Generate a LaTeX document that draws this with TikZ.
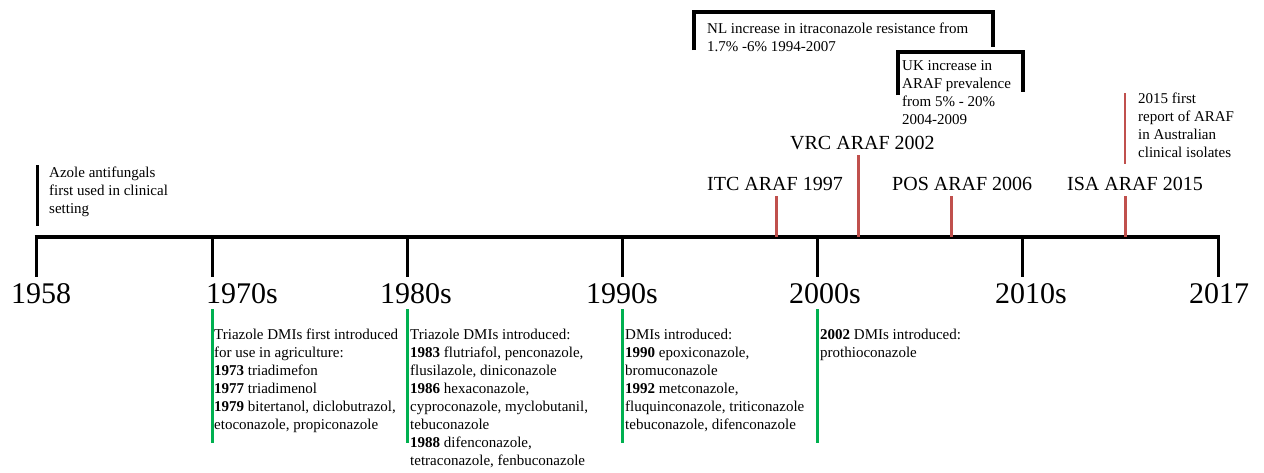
\documentclass[tikz,border=0pt]{standalone}
\usepackage{fontspec}
\setmainfont{Liberation Serif}
\definecolor{arafred}{HTML}{C0504D}
\definecolor{dmigreen}{HTML}{00B050}
\begin{document}
\begin{tikzpicture}[x=1pt,y=-1pt,
  axisline/.style={line width=4pt,black},
  tickline/.style={line width=3pt,black},
  redmark/.style={line width=3pt,arafred},
  thinred/.style={line width=1.3pt,arafred},
  greenmark/.style={line width=3pt,dmigreen},
  bracketline/.style={line width=4pt,black},
  yearlabel/.style={anchor=base west,inner sep=0pt,font=\fontsize{30}{36}\selectfont},
  araflabel/.style={anchor=base west,inner sep=0pt,font=\fontsize{20}{24}\selectfont},
  note/.style={anchor=north west,inner sep=0pt,align=left,font=\fontsize{15}{18}\selectfont}]
\useasboundingbox (0,0) rectangle (1264,472);
\fill[white] (0,0) rectangle (1264,472);
% axis
\coordinate (a58) at (36,237);
\coordinate (a70) at (212,237);
\coordinate (a80) at (407,237);
\coordinate (a90) at (622,237);
\coordinate (a00) at (817,237);
\coordinate (a10) at (1022,237);
\coordinate (a17) at (1218,237);
\coordinate (b58) at (36,277);
\coordinate (b70) at (212,277);
\coordinate (b80) at (407,277);
\coordinate (b90) at (622,277);
\coordinate (b00) at (817,277);
\coordinate (b10) at (1022,277);
\coordinate (b17) at (1218,277);
\foreach \t in {58,70,80,90,00,10,17} \draw[tickline] (a\t) -- (b\t);
\draw[axisline] ([xshift=-1.5pt]a58) -- ([xshift=1.5pt]a17);
% year labels
\node[yearlabel] (l58) at (11,303) {1958};
\node[yearlabel] (l70) at (206,303) {1970s};
\node[yearlabel] (l80) at (380,303) {1980s};
\node[yearlabel] (l90) at (586,303) {1990s};
\node[yearlabel] (l00) at (789,303) {2000s};
\node[yearlabel] (l10) at (995,303) {2010s};
\node[yearlabel] (l17) at (1189,303) {2017};
% azole
\coordinate (az1) at (37,165);
\coordinate (az2) at (37,226);
\draw[tickline] (az1) -- (az2);
\node[note] (azole) at (49,164.4) {\strut Azole antifungals\\first used in clinical\\setting};
% ARAF markers
\coordinate (itc) at (776,237);
\coordinate (itct) at (776,196);
\coordinate (vrc) at (858,237);
\coordinate (vrct) at (858,155);
\coordinate (pos) at (951,237);
\coordinate (post) at (951,196);
\coordinate (isa) at (1125,237);
\coordinate (isat) at (1125,196);
\draw[redmark] (itc) -- (itct);
\draw[redmark] (vrc) -- (vrct);
\draw[redmark] (pos) -- (post);
\draw[redmark] (isa) -- (isat);
\node[araflabel] (litc) at (707,190) {ITC ARAF 1997};
\node[araflabel] (lvrc) at (790,149) {VRC ARAF 2002};
\node[araflabel] (lpos) at (892,190) {POS ARAF 2006};
\node[araflabel] (lisa) at (1067,190) {ISA ARAF 2015};
% 2015 note
\coordinate (au1) at (1125,93);
\coordinate (au2) at (1125,164);
\draw[thinred] (au1) -- (au2);
\node[note] (aus) at (1138,90.4) {\strut 2015 first\\report of ARAF\\in Australian\\clinical  isolates};
% NL bracket
\coordinate (nl1) at (694,50);
\coordinate (nl2) at (694,12);
\coordinate (nl3) at (993,12);
\coordinate (nl4) at (993,47);
\draw[bracketline] (nl1) -- (nl2) -- (nl3) -- (nl4);
\node[note] (nl) at (707,20.4) {\strut NL increase in itraconazole resistance from\\1.7\% -6\% 1994-2007};
% UK bracket
\coordinate (uk1) at (898,95);
\coordinate (uk2) at (898,52);
\coordinate (uk3) at (1023,52);
\coordinate (uk4) at (1023,92);
\draw[bracketline] (uk1) -- (uk2) -- (uk3) -- (uk4);
\node[note] (uk) at (902,57.4) {\strut UK increase in\\ARAF prevalence\\from 5\% - 20\%\\2004-2009};
% green DMI markers
\coordinate (g70a) at (212,309);
\coordinate (g70b) at (212,443);
\coordinate (g80a) at (407,309);
\coordinate (g80b) at (407,443);
\coordinate (g90a) at (622,309);
\coordinate (g90b) at (622,443);
\coordinate (g00a) at (817,309);
\coordinate (g00b) at (817,443);
\draw[greenmark] (g70a) -- (g70b);
\draw[greenmark] (g80a) -- (g80b);
\draw[greenmark] (g90a) -- (g90b);
\draw[greenmark] (g00a) -- (g00b);
\node[note] (d70) at (214,326.4) {\strut Triazole DMIs first introduced\\for use in agriculture:\\\textbf{1973} triadimefon\\\textbf{1977} triadimenol\\\textbf{1979} bitertanol, diclobutrazol,\\etoconazole, propiconazole};
\node[note] (d80) at (410,326.4) {\strut Triazole DMIs introduced:\\\textbf{1983} flutriafol,  penconazole,\\flusilazole,  diniconazole\\\textbf{1986} hexaconazole,\\cyproconazole, myclobutanil,\\tebuconazole\\\textbf{1988} difenconazole,\\tetraconazole, fenbuconazole};
\node[note] (d90) at (625,326.4) {\strut DMIs introduced:\\\textbf{1990} epoxiconazole,\\bromuconazole\\\textbf{1992} metconazole,\\fluquinconazole,  triticonazole\\tebuconazole, difenconazole};
\node[note] (d00) at (820,326.4) {\strut\textbf{2002} DMIs introduced:\\prothioconazole};
\end{tikzpicture}
\end{document}
